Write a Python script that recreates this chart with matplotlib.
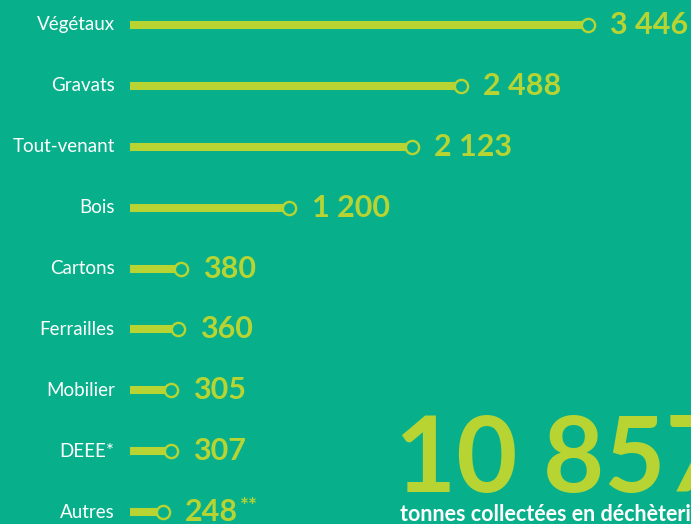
import matplotlib.pyplot as plt

# --- Données ---
categories = ["Végétaux", "Gravats", "Tout-venant", "Bois", "Cartons",
              "Ferrailles", "Mobilier", "DEEE*", "Autres"]
tonnes = [3446, 2488, 2123, 1200, 380, 360, 305, 307, 248]
value_labels = ["3 446", "2 488", "2 123", "1 200", "380", "360", "305", "307", "248"]
total_label = "10 857"
total_caption = "tonnes collectées en déchèteries"

# --- Style ---
BG = "#07b08b"
LIME = "#b7d433"
W, H = 691, 524
plt.rcParams['font.family'] = ['Lato', 'DejaVu Sans']

fig = plt.figure(figsize=(W / 100, H / 100), dpi=100, facecolor=BG)
ax = fig.add_axes([0, 0, 1, 1], facecolor=BG)

# echelle : 0 -> x=130 px, 3446 -> x=588 px ; lignes tous les ~61 px
k = (588 - 130) / 3446
ax.set_xlim(-130 / k, (W - 130) / k)
row_h = 60.9
ax.set_ylim((H - 25) / row_h, -25 / row_h)
ax.axis("off")

for i, (cat, v, lab) in enumerate(zip(categories, tonnes, value_labels)):
    ax.hlines(i, 0, v, color=LIME, linewidth=5.8, capstyle="butt")
    ax.plot(v, i, "o", markersize=9.5, markerfacecolor=BG,
            markeredgecolor=LIME, markeredgewidth=1.7)
    ax.annotate(cat, (0, i), xytext=(-11, 0), textcoords="offset points",
                ha="right", va="center", color="white", fontsize=13.5)
    t = ax.annotate(lab, (v, i), xytext=(16, 0), textcoords="offset points",
                    ha="left", va="center", color=LIME, fontsize=22,
                    fontweight="bold")
    if cat == "Autres":
        ax.annotate("**", (1, 1), xycoords=t, xytext=(1, 1),
                    textcoords="offset points", ha="left", va="top",
                    color=LIME, fontsize=15, fontweight="bold")

# total
fig.text(395 / W, 1 - 492 / H, total_label, color=LIME, fontsize=76,
         fontweight="bold", ha="left", va="baseline")
fig.text(400 / W, 1 - 521 / H, total_caption, color="white", fontsize=15.5,
         fontweight="bold", ha="left", va="baseline")

fig.savefig("out.png", dpi=100, facecolor=BG)
